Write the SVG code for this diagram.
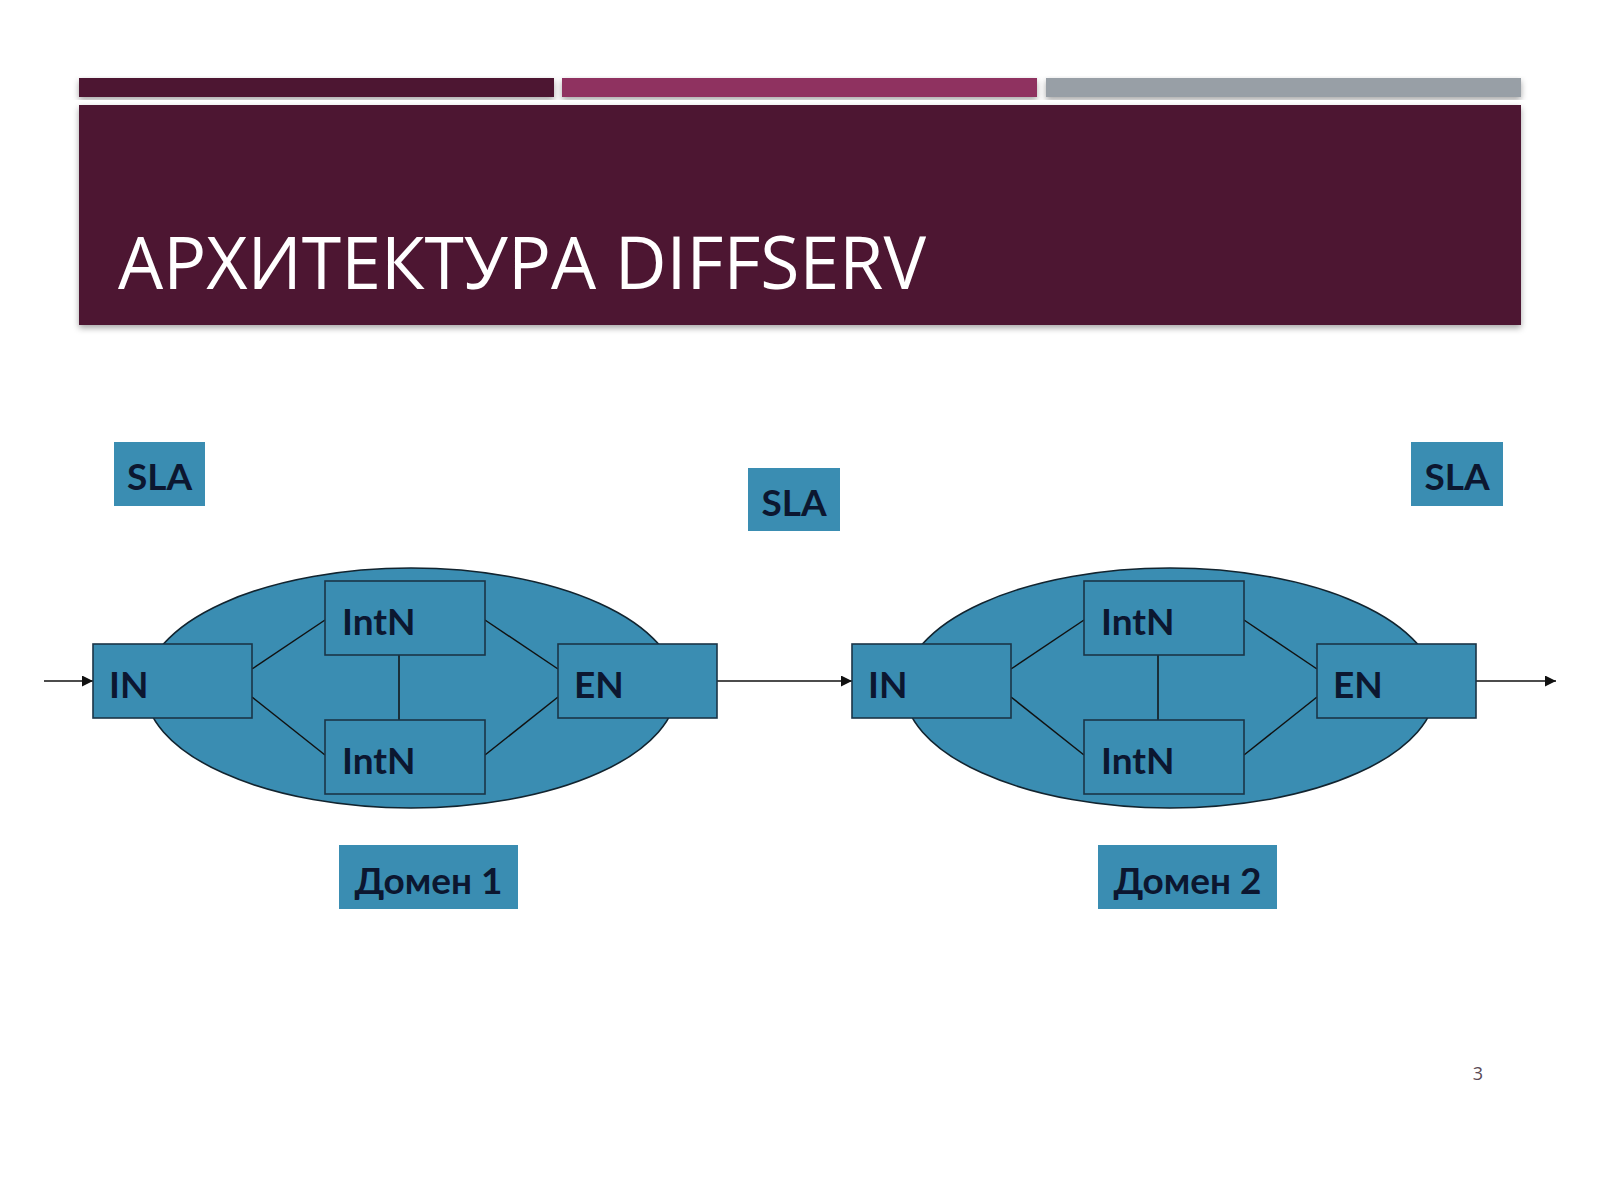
<svg xmlns="http://www.w3.org/2000/svg" width="1600" height="1200" viewBox="0 0 1600 1200">
<defs>
<style>
.node{fill:#3a8db2;stroke:#1b3547;stroke-width:1.6}
.ell{fill:#3a8db2;stroke:#12242f;stroke-width:1.6}
.lbl{fill:#3a8db2}
.t{font-family:Lato,"Liberation Sans",sans-serif;font-weight:bold;font-size:37px;fill:#0c1730}
.c{stroke:#111;stroke-width:1.5;fill:none}
.a{stroke:#111;stroke-width:1.5;fill:none;marker-end:url(#ah)}
</style>
<marker id="ah" viewBox="0 0 10 10" refX="10" refY="5" markerWidth="12" markerHeight="11" markerUnits="userSpaceOnUse" orient="auto">
<path d="M0,0 L10,5 L0,10 z" fill="#111"/>
</marker>
<filter id="sh" x="-5%" y="-10%" width="110%" height="125%">
<feDropShadow dx="0" dy="3" stdDeviation="3" flood-color="#000" flood-opacity="0.35"/>
</filter>
</defs>
<rect x="0" y="0" width="1600" height="1200" fill="#ffffff"/>
<g id="header">
<rect x="79" y="78" width="475" height="19" fill="#4e1733" filter="url(#sh)"/>
<rect x="562" y="78" width="475" height="19" fill="#8f3060" filter="url(#sh)"/>
<rect x="1046" y="78" width="475" height="19" fill="#989fa6" filter="url(#sh)"/>
<rect x="79" y="105" width="1442" height="220" fill="#4e1533" filter="url(#sh)"/>
<text x="118" y="289" font-family="'Open Sans','Noto Sans',sans-serif" font-size="74" fill="#ffffff" textLength="808" lengthAdjust="spacingAndGlyphs">АРХИТЕКТУРА DIFFSERV</text>
</g>
<g id="domain1-ellipse"><ellipse class="ell" cx="411" cy="688" rx="266" ry="120"/></g>
<g id="domain2-ellipse"><ellipse class="ell" cx="1170" cy="688" rx="266" ry="120"/></g>
<g id="connectors">
<line class="a" x1="44" y1="681" x2="93" y2="681"/>
<line class="a" x1="717" y1="681" x2="852" y2="681"/>
<line class="a" x1="1476" y1="681" x2="1556" y2="681"/>
<line class="c" x1="252" y1="669" x2="325" y2="620"/>
<line class="c" x1="252" y1="697" x2="325" y2="755"/>
<line class="c" x1="485" y1="620" x2="558" y2="669"/>
<line class="c" x1="485" y1="755" x2="558" y2="697"/>
<line class="c" x1="399" y1="655" x2="399" y2="720"/>
<line class="c" x1="1011" y1="669" x2="1084" y2="620"/>
<line class="c" x1="1011" y1="697" x2="1084" y2="755"/>
<line class="c" x1="1244" y1="620" x2="1317" y2="669"/>
<line class="c" x1="1244" y1="755" x2="1317" y2="697"/>
<line class="c" x1="1158" y1="655" x2="1158" y2="720"/>
</g>
<g id="in1"><rect class="node" x="93" y="644" width="159" height="74"/><text class="t" x="109" y="698">IN</text></g>
<g id="intn1a"><rect class="node" x="325" y="581" width="160" height="74"/><text class="t" x="342" y="635">IntN</text></g>
<g id="intn1b"><rect class="node" x="325" y="720" width="160" height="74"/><text class="t" x="342" y="774">IntN</text></g>
<g id="en1"><rect class="node" x="558" y="644" width="159" height="74"/><text class="t" x="574" y="698">EN</text></g>
<g id="in2"><rect class="node" x="852" y="644" width="159" height="74"/><text class="t" x="868" y="698">IN</text></g>
<g id="intn2a"><rect class="node" x="1084" y="581" width="160" height="74"/><text class="t" x="1101" y="635">IntN</text></g>
<g id="intn2b"><rect class="node" x="1084" y="720" width="160" height="74"/><text class="t" x="1101" y="774">IntN</text></g>
<g id="en2"><rect class="node" x="1317" y="644" width="159" height="74"/><text class="t" x="1333" y="698">EN</text></g>
<g id="sla1"><rect class="lbl" x="114" y="442" width="91" height="64"/><text class="t" x="159.5" y="490" text-anchor="middle">SLA</text></g>
<g id="sla2"><rect class="lbl" x="748" y="468" width="92" height="63"/><text class="t" x="794" y="516" text-anchor="middle">SLA</text></g>
<g id="sla3"><rect class="lbl" x="1411" y="442" width="92" height="64"/><text class="t" x="1457" y="490" text-anchor="middle">SLA</text></g>
<g id="dom1"><rect class="lbl" x="339" y="845" width="179" height="64"/><text class="t" x="428.5" y="894" text-anchor="middle">Домен 1</text></g>
<g id="dom2"><rect class="lbl" x="1098" y="845" width="179" height="64"/><text class="t" x="1187.5" y="894" text-anchor="middle">Домен 2</text></g>
<g id="page"><text x="1478" y="1080" text-anchor="middle" font-family="'Open Sans','Noto Sans',sans-serif" font-size="18" fill="#5a4a55">3</text></g>
</svg>
